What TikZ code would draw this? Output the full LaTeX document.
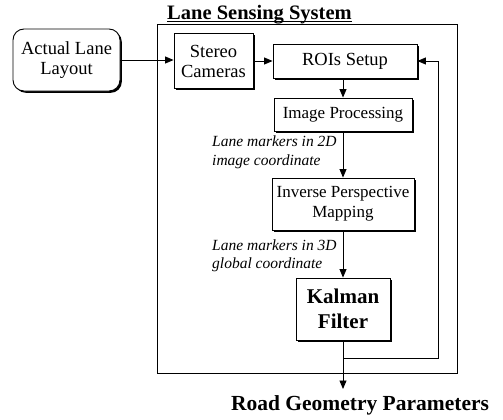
\documentclass[tikz,border=0pt]{standalone}
\usepackage{fontspec}
\setmainfont{Liberation Serif}
\usetikzlibrary{arrows.meta,shadows}
\begin{document}
\begin{tikzpicture}[x=1pt,y=-1pt,
  box/.style={draw, line width=0.9pt, fill=white, inner sep=0pt, align=center,
    drop shadow={shadow xshift=1.8pt, shadow yshift=-1.8pt, fill=black, opacity=1}},
  txt/.style={font=\fontsize{18.5}{20}\selectfont},
  txtsm/.style={font=\fontsize{17}{20}\selectfont},
  lbl/.style={inner sep=0pt, align=left, anchor=west, font=\fontsize{15.5}{18.5}\selectfont\itshape},
  conn/.style={line width=0.9pt},
  arr/.style={conn, -{Triangle[length=8.5pt,width=7pt]}}
]
\fill[white] (0,0) rectangle (503,420);
\useasboundingbox (0,0) rectangle (503,420);

% system frame
\node[draw, line width=0.9pt, minimum width=300pt, minimum height=349pt, inner sep=0pt] (sys) at (307,198.5) {};
\node[inner sep=0pt, anchor=base west, font=\fontsize{20.5}{21}\selectfont\bfseries] (title) at (167,19.5) {Lane Sensing System};
\draw[line width=0.8pt] (title.base west) ++(0,2.3) coordinate (ul1) -- (title.base east |- ul1);

% boxes
\node[box, txt, rounded corners=11pt, minimum width=107pt, minimum height=62pt] (actual) at (66.5,60) {Actual Lane\\Layout};
\node[box, txt, minimum width=79pt, minimum height=55pt] (stereo) at (213.5,61) {Stereo\\Cameras};
\node[box, txt, minimum width=144pt, minimum height=34pt] (rois) at (345,61) {ROIs Setup};
\node[box, txtsm, minimum width=138pt, minimum height=33pt] (ip) at (343,114.5) {Image Processing};
\node[box, txtsm, minimum width=142pt, minimum height=52pt] (ipm) at (343,204) {Inverse Perspective\\Mapping};
\node[box, font=\fontsize{21}{25}\selectfont\bfseries, minimum width=94pt, minimum height=62pt] (kf) at (343,309) {Kalman\\Filter};

% labels
\node[lbl] (l2d) at (212,152.5) {Lane markers in 2D\\image coordinate};
\node[lbl] (l3d) at (212,256) {Lane markers in 3D\\global coordinate};
\node[inner sep=0pt, font=\fontsize{21.5}{22}\selectfont\bfseries] (out) at (360,405) {Road Geometry Parameters};

% connectors
\coordinate (fb) at (438,358);
\coordinate (outtip) at (343,389);
\draw[arr] (actual.east) -- (actual.east -| stereo.west);
\draw[arr] (stereo.east |- rois.west) -- (rois.west);
\draw[arr] (rois.south -| ip.north) -- (ip.north);
\draw[arr] (ip.south) -- (ipm.north);
\draw[arr] (ipm.south) -- (kf.north);
\draw[arr] (kf.south) -- (outtip);
\draw[arr] (kf.south |- fb) -- (fb) |- (rois.east);
\end{tikzpicture}
\end{document}
